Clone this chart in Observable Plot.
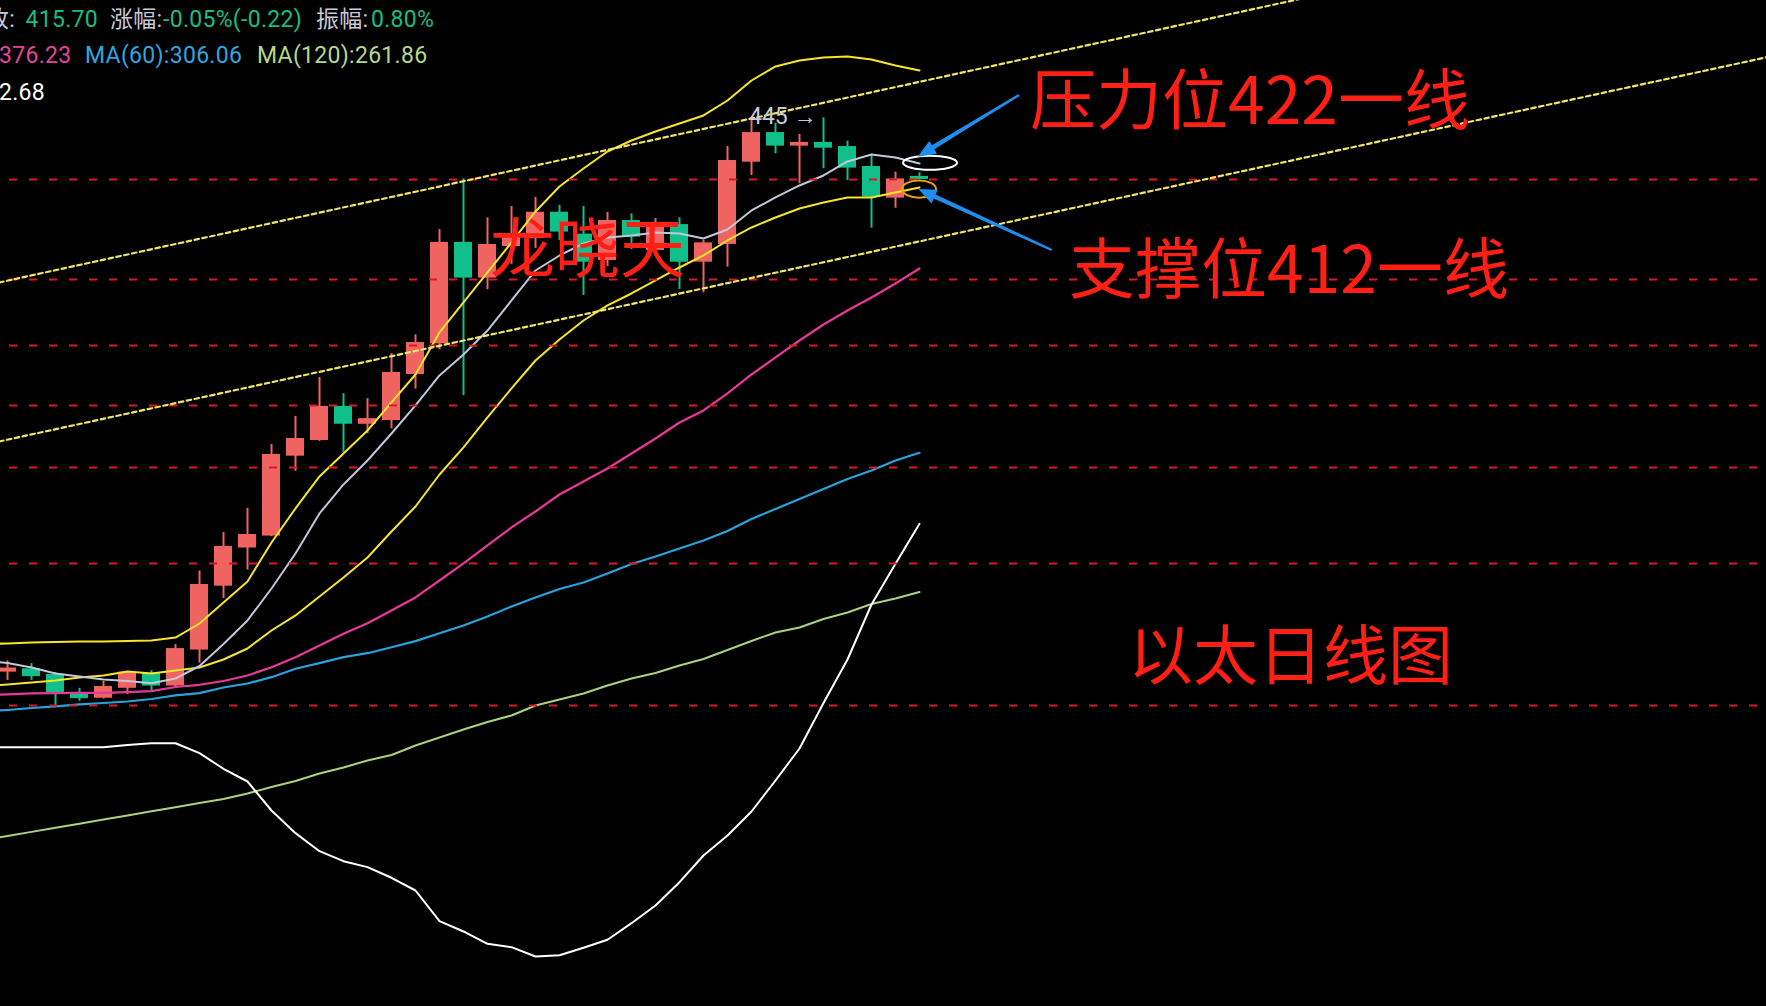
<!DOCTYPE html>
<html><head><meta charset="utf-8">
<script src="https://cdn.jsdelivr.net/npm/d3@7"></script>
<script src="https://cdn.jsdelivr.net/npm/@observablehq/plot@0.6"></script>
<style>
html,body{margin:0;padding:0;background:#000;overflow:hidden;}
#wrap{position:relative;width:1766px;height:1006px;overflow:hidden;background:#000;}
#wrap svg{position:absolute;left:0;top:0;}
.t{position:absolute;white-space:pre;font-family:Roboto,"Noto Sans CJK SC",sans-serif;font-size:23px;line-height:23px;letter-spacing:0.3px;}
.big{position:absolute;white-space:pre;font-family:"Noto Sans CJK SC",sans-serif;color:#ff1f14;line-height:1;}
</style></head><body>
<div id="wrap">
</div>
<script>
// ---- Candles (daily), index 0..38 ----
const open  = [239.4,240.3,238.8,233.5,232.5,235.1,239.1,235.7,245.4,263.6,275.1,278.8,304.9,310.3,322.4,316.0,317.3,334.1,345.8,387.4,372.2,385.6,389.1,400.7,391.0,379.6,397.0,383.9,395.2,378.9,386.5,423.8,438.1,431.5,433.3,431.3,421.8,407.1,417.1];
const high  = [242.4,241.7,239.3,235.1,236.9,239.6,239.8,246.9,268.1,279.9,287.6,308.9,318.8,333.0,327.0,325.2,342.0,349.3,393.0,416.0,398.2,403.3,407.4,403.8,403.3,400.6,400.0,397.9,398.2,388.2,431.3,444.1,442.7,437.2,445.4,433.9,427.0,419.1,418.8];
const low   = [237.2,237.2,230.6,231.7,232.3,233.5,234.5,235.4,241.8,260.0,268.4,278.6,299.8,310.0,306.3,312.7,314.4,328.7,343.5,326.3,367.4,378.0,384.8,388.2,365.0,377.1,384.3,381.3,367.5,366.1,376.8,417.5,427.8,413.7,420.7,415.2,393.6,402.5,415.5];
const close = [240.5,238.2,234.0,232.4,235.6,239.4,235.7,245.8,264.1,275.6,279.3,305.5,311.0,322.4,316.0,318.0,334.9,346.3,387.4,372.2,386.5,390.0,400.7,391.9,378.9,397.0,389.7,395.2,378.9,387.2,424.6,438.1,431.5,433.3,430.5,421.0,407.5,415.92,415.70];

// ---- Indicator lines, index -1..38 ----
const lineStart = -1;
const bollUpper = [247.07,247.21,247.49,247.62,247.76,247.76,247.90,248.04,248.85,252.80,258.82,264.98,276.81,287.56,298.06,305.83,313.81,323.81,334.12,350.21,362.18,374.55,387.36,401.04,412.43,420.83,428.91,434.23,438.63,442.58,446.57,454.12,464.41,471.76,474.93,476.54,477.07,475.46,472.28,469.64];
const ma20 = [235.59,236.11,236.64,237.17,237.97,238.5,239.57,239.04,239.84,240.65,242.81,245.82,250.83,255.09,260.57,266.18,272.2,280.24,288.2,298.72,307.9,318.41,328.93,339.40,347.48,354.95,360.97,365.85,371.21,376.66,381.76,388.22,393.92,398.36,402.39,405.1,407.38,407.38,409.67,411.97];
const ma5 = [242.54,241.86,240.65,239.04,238.24,237.44,237.04,236.46,237.7,241.05,247.07,253.66,262.91,273.43,285.95,295.4,303.44,312.76,322.73,333.75,341.69,350.99,362.99,375.39,381.76,386.92,389.53,390.41,391.72,391.28,389.09,393.03,401.49,407.38,412.9,417.54,424.14,427.48,426.04,423.19];
const ma30 = [233.36,233.49,233.75,233.83,233.88,233.88,234.09,234.35,235.45,236.03,237.04,238.5,240.73,243.44,246.66,249.9,252.89,256.51,260.28,265.28,270.38,275.89,281.51,286.59,292.1,296.39,300.74,305.83,311.01,316.63,320.92,327.09,334.12,340.55,347.09,353.37,358.95,364.22,369.97,376.23];
const ma60 = [229.08,229.46,229.97,230.37,230.89,231.27,231.66,232.31,233.23,233.83,235.32,236.38,238.05,240.3,241.81,243.44,244.53,246.18,247.85,250.07,252.23,254.8,257.67,260.28,262.76,264.69,267.37,270.23,272.51,274.96,277.43,280.4,284.2,287.39,290.63,293.9,297.22,300.06,303.44,306.06];
const ma120 = [198.35,199.26,200.18,201.1,202.03,202.98,203.91,204.85,205.79,206.74,207.69,208.98,210.51,211.92,213.71,215.15,216.84,218.18,220.52,222.5,224.5,226.4,228.06,230.62,232.18,233.75,235.85,237.7,239.17,241.19,242.95,245.41,247.9,250.27,251.66,254.09,255.94,258.39,259.98,261.86];
const whiteLine = [220.1,220.1,220.1,220.1,220.1,220.1,220.64,221.08,221.08,218.62,214.84,211.8,205.03,199.89,195.9,193.72,192.43,190.15,187.46,181.13,179.05,176.6,175.93,174.11,174.36,175.81,177.39,180.72,184.34,189.21,194.96,199.38,204.8,212.04,219.77,231.28,242.81,258.24,270.29,282.68];

// ---- Drawn levels and trend channel ----
const levels = [415.67,371.62,345.15,322.73,301.07,270.38,230.62];
const upperTrendIdx = [-1, 60];   const upperTrendPrice = [368.98, 527.5];
const lowerTrendIdx = [-1, 74];   const lowerTrendPrice = [308.79, 478.62];

// ---- Annotation anchors (index, price) ----
const resistance = {i: 38.46, p: 423.3};
const support = {i: 38.0, p: 411.0};
const arrowTailsIdx = [42.17, 43.53];  const arrowTailsPrice = [456.7, 383.9];
const arrowTipsIdx = [37.95, 37.97];   const arrowTipsPrice = [426.2, 411.0];

// header texts
const header = [
  {text:"收:", color:"#c8c9d6", left:-14, row:0},
  {text:"415.70", color:"#17bd83", left:25.5, row:0},
  {text:"涨幅:", color:"#c8c9d6", left:110, row:0},
  {text:"-0.05%(-0.22)", color:"#17bd83", left:163, row:0},
  {text:"振幅:", color:"#c8c9d6", left:316, row:0},
  {text:"0.80%", color:"#17bd83", left:371, row:0},
  {text:"376.23", color:"#e2459e", left:-1, row:1},
  {text:"MA(60):306.06", color:"#2ea7e0", left:85, row:1},
  {text:"MA(120):261.86", color:"#b4d98a", left:257, row:1},
  {text:"2.68", color:"#ffffff", left:-1, row:2}
];
const bigTexts = [
  {text:"压力位422一线", size:66, left:1030, cy:99},
  {text:"支撑位412一线", size:66, left:1069, cy:268},
  {text:"以太日线图", size:65, left:1128, cy:655},
  {text:"龙晓天", size:65, left:490, cy:248}
];

const RED = "#ef6361", GREEN = "#10bf8a";
const candles = open.map((o, i) => ({i, open:o, high:high[i], low:low[i], close:close[i], up: close[i] >= o}));
const toSeries = arr => arr.map((v, k) => ({i: k + lineStart, v}));
const maxC = candles.reduce((a, b) => b.high > a.high ? b : a);

const lineMark = (arr, color, w) => Plot.line(toSeries(arr), {x:"i", y:"v", stroke:color, strokeWidth:w, clip:true});
const trend = (xs, ys) => Plot.line(xs.map((x, k) => ({i:x, p:ys[k]})), {x:"i", y:"p", stroke:"#f1e468", strokeWidth:2.2, strokeDasharray:"4.5,3.5", clip:true});

const plot = Plot.plot({
  width: 1766, height: 1006, margin: 0,
  style: {background:"#000"},
  x: {domain:[-7/24, 1759/24], axis:null},
  y: {type:"log", domain:[164.62, 507.94], axis:null},
  marks: [
    Plot.ruleX(candles, {filter:d=>d.up, x:"i", y1:"low", y2:"high", stroke:RED, strokeWidth:2, clip:true}),
    Plot.ruleX(candles, {filter:d=>!d.up, x:"i", y1:"low", y2:"high", stroke:GREEN, strokeWidth:2, clip:true}),
    Plot.rect(candles, {filter:d=>d.up, x1:d=>d.i-0.375, x2:d=>d.i+0.375, y1:"open", y2:"close", fill:RED, clip:true}),
    Plot.rect(candles, {filter:d=>!d.up, x1:d=>d.i-0.375, x2:d=>d.i+0.375, y1:"open", y2:"close", fill:GREEN, clip:true}),
    lineMark(ma120, "#a9d47e", 2),
    lineMark(ma60, "#29a3dc", 2.2),
    lineMark(ma30, "#e8399a", 2.2),
    lineMark(whiteLine, "#ffffff", 2),
    lineMark(ma20, "#f7e52b", 2),
    lineMark(bollUpper, "#f7e52b", 2),
    lineMark(ma5, "#c3c6dc", 2),
    Plot.ruleY(levels, {y:d=>d, stroke:"#d81a28", strokeWidth:2, strokeDasharray:"8,12", insetLeft:9}),
    trend(upperTrendIdx, upperTrendPrice),
    trend(lowerTrendIdx, lowerTrendPrice),
    Plot.text([maxC], {x:"i", y:"high", text:d=>`${Math.round(d.high)} →`, textAnchor:"end", dx:-7, dy:-1, fill:"#c9cad8", fontSize:23, fontFamily:"Roboto, sans-serif"})
  ]
});
const wrap = document.getElementById("wrap");
wrap.appendChild(plot);

const sx = plot.scale("x"), sy = plot.scale("y");
const svg = d3.select(plot);
const g = svg.append("g");
[[resistance, 27, 7, "#ffffff"], [support, 17, 8.7, "#e8a200"]].forEach(([a, rx, ry, c]) => {
  g.append("ellipse").attr("cx", sx.apply(a.i)).attr("cy", sy.apply(a.p)).attr("rx", rx).attr("ry", ry)
    .attr("fill", "none").attr("stroke", c).attr("stroke-width", 2);
});
arrowTailsIdx.forEach((ti, k) => {
  const x1 = sx.apply(ti), y1 = sy.apply(arrowTailsPrice[k]);
  const x2 = sx.apply(arrowTipsIdx[k]), y2 = sy.apply(arrowTipsPrice[k]);
  const L = Math.hypot(x2-x1, y2-y1), ux = (x2-x1)/L, uy = (y2-y1)/L, nx = -uy, ny = ux;
  const H = 18, W = 7.5, w0 = 1.2, w1 = 4.5;
  const bx = x2 - ux*H, by = y2 - uy*H;
  const pts = [
    [x1+nx*w0, y1+ny*w0], [bx+nx*w1/2, by+ny*w1/2], [bx+nx*W, by+ny*W], [x2, y2],
    [bx-nx*W, by-ny*W], [bx-nx*w1/2, by-ny*w1/2], [x1-nx*w0, y1-ny*w0]
  ];
  g.append("polygon").attr("points", pts.map(p => p.join(",")).join(" ")).attr("fill", "#1e8ff0");
});

// header
const rowBase = [27, 63, 100];
header.forEach(h => {
  const d = document.createElement("div");
  d.className = "t"; d.textContent = h.text; d.style.color = h.color;
  d.style.left = h.left + "px"; d.style.top = (rowBase[h.row] - 19.5) + "px";
  wrap.appendChild(d);
});
bigTexts.forEach(b => {
  const d = document.createElement("div");
  d.className = "big"; d.textContent = b.text;
  d.style.fontSize = b.size + "px"; d.style.left = b.left + "px";
  d.style.top = (b.cy - 0.556*b.size) + "px";
  wrap.appendChild(d);
});
</script>
</body></html>
